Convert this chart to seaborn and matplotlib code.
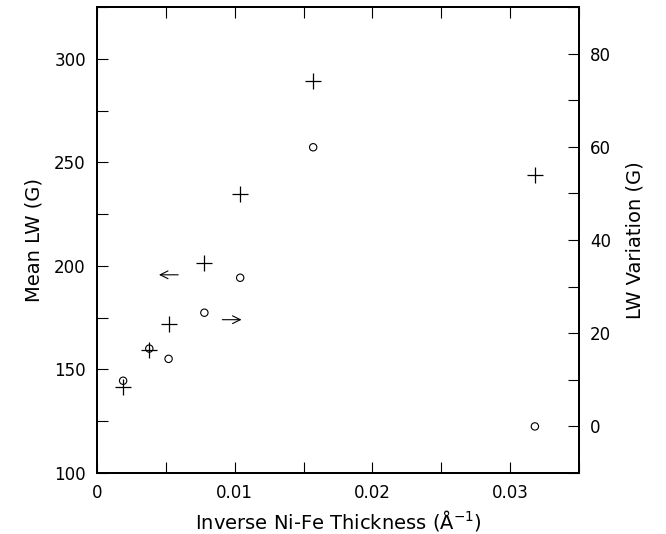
import seaborn as sns
import pandas as pd
import matplotlib.pyplot as plt
from matplotlib.ticker import MultipleLocator

# data
inv_thickness = [0.0019, 0.0038, 0.0052, 0.0078, 0.0104, 0.0157, 0.0318]
mean_lw = [141.5, 159.5, 172.0, 201.5, 234.5, 289.5, 244.0]
lw_variation = [9.8, 16.7, 14.5, 24.4, 31.9, 59.9, 0.0]

df = pd.DataFrame({'x': inv_thickness, 'mean': mean_lw, 'var': lw_variation})

sns.set_style('ticks')
plt.rcParams['font.family'] = ['DejaVu Sans']
plt.rcParams['text.color'] = 'black'
plt.rcParams['axes.labelcolor'] = 'black'
plt.rcParams['xtick.color'] = 'black'
plt.rcParams['ytick.color'] = 'black'

fig = plt.figure(figsize=(6.66, 5.34), dpi=100)
ax = fig.add_axes([0.1456, 0.1142, 0.7237, 0.8727])
ax2 = ax.twinx()

sns.scatterplot(data=df, x='x', y='mean', marker='+', s=130, color='black',
                linewidth=0.9, ax=ax)
sns.scatterplot(data=df, x='x', y='var', marker='o', s=28, facecolors='none',
                edgecolor='black', linewidth=0.8, ax=ax2)

# arrows telling which axis each series belongs to
ax.annotate('', xy=(0.0043, 195.7), xytext=(0.0061, 195.7),
            arrowprops=dict(arrowstyle='->', color='black', lw=0.8,
                            mutation_scale=14))
ax2.annotate('', xy=(0.0107, 22.9), xytext=(0.0089, 22.9),
             arrowprops=dict(arrowstyle='->', color='black', lw=0.8,
                             mutation_scale=14))

ax.set_xlim(0, 0.035)
ax.set_ylim(100, 325)
ax2.set_ylim(-10, 90)

ax.set_xticks([0, 0.01, 0.02, 0.03])
ax.set_xticklabels(['0', '0.01', '0.02', '0.03'])
ax.xaxis.set_minor_locator(MultipleLocator(0.005))
ax.set_yticks([100, 150, 200, 250, 300])
ax.yaxis.set_minor_locator(MultipleLocator(25))
ax2.set_yticks([0, 20, 40, 60, 80])
ax2.yaxis.set_minor_locator(MultipleLocator(10))

ax.tick_params(which='both', direction='in', top=True, right=False,
               labelsize=12, width=0.8, length=8, pad=8)
ax2.tick_params(which='both', direction='in', labelsize=12, width=0.8,
                length=8, pad=8)

ax.set_xlabel(r'Inverse Ni-Fe Thickness (Å$^{-1}$)', fontsize=14, labelpad=4)
ax.set_ylabel('Mean LW (G)', fontsize=14, labelpad=8)
ax2.set_ylabel('LW Variation (G)', fontsize=14, labelpad=10)

for a in (ax, ax2):
    for sp in a.spines.values():
        sp.set_linewidth(1.4)
        sp.set_color('black')

plt.savefig('out.png', dpi=100)
